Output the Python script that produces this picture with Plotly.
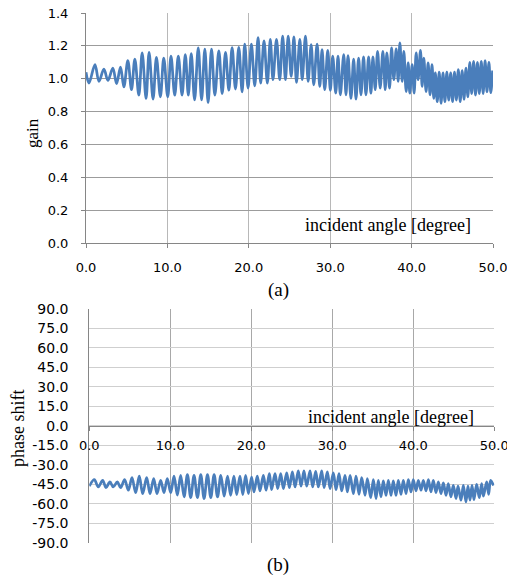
import plotly.graph_objects as go

# ---------------- data (successive extrema) ----------------
gain_angle = [0.0, 0.37, 1.1, 1.59, 2.2, 2.69, 3.3, 3.75, 4.24, 4.65, 5.14, 5.59, 6.0, 6.49,
              6.9, 7.38, 7.75, 8.24, 8.65, 9.14, 9.55, 10.04, 10.44, 10.9, 11.34, 11.8, 12.2,
              12.57, 12.93, 13.34, 13.79, 14.2, 14.6, 15.0, 15.42, 15.83, 16.32, 16.73, 17.14,
              17.55, 17.95, 18.36, 18.77, 19.18, 19.5, 19.91, 20.32, 20.73, 21.14, 21.46, 21.87,
              22.28, 22.64, 22.97, 23.4, 23.8, 24.16, 24.5, 24.84, 25.21, 25.54, 25.86, 26.27,
              26.56, 26.96, 27.29, 27.66, 27.98, 28.39, 28.72, 29.0, 29.33, 29.7, 30.02, 30.31,
              30.68, 30.96, 31.25, 31.66, 31.94, 32.19, 32.55, 32.88, 33.17, 33.49, 33.78, 34.1,
              34.39, 34.72, 35.0, 35.25, 35.53, 35.82, 36.14, 36.47, 36.76, 36.96, 37.29, 37.54,
              37.82, 38.11, 38.35, 38.56, 38.84, 39.05, 39.33, 39.58, 39.78, 40.07, 40.31, 40.56,
              40.8, 41.09, 41.29, 41.5, 41.78, 42.03, 42.27, 42.51, 42.72, 42.92, 43.15, 43.39,
              43.62, 43.86, 44.09, 44.33, 44.56, 44.8, 45.03, 45.27, 45.5, 45.74, 45.97, 46.21,
              46.44, 46.68, 46.91, 47.15, 47.38, 47.62, 47.85, 48.09, 48.32, 48.56, 48.79, 49.03,
              49.26, 49.5, 49.73, 49.95]
gain_value = [1.04, 0.973, 1.086, 0.984, 1.059, 0.99, 1.065, 0.97, 1.07, 0.95, 1.11, 0.933, 1.12, 0.90,
              1.157, 0.88, 1.16, 0.876, 1.13, 0.89, 1.126, 0.89, 1.137, 0.90, 1.137, 0.90, 1.147,
              0.90, 1.153, 0.871, 1.188, 0.871, 1.18, 0.855, 1.18, 0.90, 1.17, 0.91, 1.16,
              0.93, 1.19, 0.937, 1.19, 0.92, 1.21, 0.943, 1.21, 0.957, 1.25, 0.973, 1.23,
              0.973, 1.24, 0.994, 1.24, 0.994, 1.26, 0.994, 1.26, 1.014, 1.255, 0.978, 1.24,
              0.994, 1.26, 0.984, 1.208, 0.963, 1.21, 0.953, 1.177, 0.933, 1.173, 0.929, 1.137,
              0.912, 1.137, 0.902, 1.147, 0.902, 1.14, 0.88, 1.12, 0.876, 1.126, 0.902, 1.133,
              0.902, 1.133, 0.912, 1.133, 0.933, 1.167, 0.943, 1.167, 0.933, 1.157, 0.943, 1.188,
              0.994, 1.182, 0.984, 1.218, 0.984, 1.167, 0.922, 1.096, 0.912, 1.086, 0.912, 1.157,
              0.994, 1.173, 0.953, 1.126, 0.922, 1.096, 0.902, 1.086, 0.88, 1.035, 0.86, 1.04,
              0.85, 1.035, 0.86, 1.04, 0.87, 1.035, 0.86, 1.04, 0.87, 1.055, 0.86, 1.05,
              0.875, 1.065, 0.89, 1.10, 0.91, 1.105, 0.90, 1.10, 0.91, 1.105, 0.91, 1.11,
              0.92, 1.10, 0.915, 1.05]

phase_angle = [0.0, 0.62, 1.11, 1.65, 2.06, 2.55, 2.96, 3.46, 3.87, 4.36, 4.82, 5.27, 5.72, 6.17,
               6.59, 7.08, 7.5, 7.95, 8.36, 8.81, 9.22, 9.63, 10.05, 10.46, 10.87, 11.28, 11.7,
               12.11, 12.52, 12.93, 13.35, 13.76, 14.17, 14.59, 15.0, 15.41, 15.83, 16.24, 16.65,
               17.07, 17.45, 17.85, 18.2, 18.6, 18.95, 19.3, 19.65, 20.04, 20.33, 20.74, 21.07,
               21.49, 21.82, 22.23, 22.51, 22.93, 23.26, 23.63, 23.96, 24.37, 24.7, 25.07, 25.4,
               25.8, 26.14, 26.5, 26.84, 27.25, 27.58, 27.95, 28.28, 28.69, 28.98, 29.39, 29.72,
               30.13, 30.46, 30.83, 31.16, 31.57, 31.86, 32.2, 32.6, 32.93, 33.3, 33.63, 34.04,
               34.33, 34.74, 35.07, 35.4, 35.68, 36.01, 36.3, 36.63, 36.92, 37.25, 37.53, 37.86,
               38.15, 38.48, 38.77, 39.1, 39.39, 39.72, 40.0, 40.33, 40.62, 40.95, 41.24, 41.57,
               41.86, 42.18, 42.47, 42.8, 43.09, 43.42, 43.71, 44.04, 44.32, 44.65, 44.94, 45.27,
               45.52, 45.89, 46.18, 46.5, 46.75, 47.0, 47.25, 47.49, 47.82, 48.15, 48.44, 48.65,
               49.06, 49.3, 49.55, 49.9]
phase_value = [-46.5, -41.4, -47.1, -41.9, -47.6, -43.2, -47.1, -43.2, -47.6, -41.4, -49.6, -39.9, -51.5, -38.8,
               -52.2, -39.9, -52.2, -40.6, -52.2, -41.9, -51.5, -40.6, -51.5, -38.8, -53.3, -38.1, -54.7,
               -37.6, -55.3, -38.1, -55.3, -37.6, -56.0, -37.6, -55.3, -37.6, -54.7, -38.1, -54.2,
               -38.8, -53.5, -38.8, -53.0, -38.8, -53.0, -38.1, -52.2, -39.4, -50.9, -38.8, -50.1,
               -38.1, -49.6, -36.8, -49.1, -36.8, -48.3, -36.8, -48.3, -36.3, -47.6, -35.5, -47.1,
               -34.7, -46.5, -34.7, -46.5, -34.7, -47.1, -35.0, -47.1, -34.7, -47.6, -35.5, -48.3,
               -36.3, -49.1, -36.8, -50.1, -38.1, -50.9, -38.1, -52.2, -38.8, -52.7, -39.9, -53.5,
               -40.6, -55.3, -41.4, -56.0, -41.9, -54.7, -42.4, -53.5, -41.9, -53.5, -42.4, -53.5,
               -41.9, -52.7, -41.9, -52.2, -41.4, -50.9, -41.4, -50.1, -41.9, -49.6, -41.9, -50.1,
               -41.4, -50.9, -41.9, -51.5, -43.2, -52.2, -44.0, -53.5, -44.5, -54.7, -45.8, -56.0,
               -46.5, -57.3, -45.8, -58.6, -46.5, -57.3, -45.8, -56.8, -45.0, -55.3, -44.5, -54.2,
               -43.2, -52.7, -42.0, -46.0]

gain_ticks = [0.0, 0.2, 0.4, 0.6, 0.8, 1.0, 1.2, 1.4]
phase_ticks = [-90, -75, -60, -45, -30, -15, 0, 15, 30, 45, 60, 75, 90]
angle_ticks = [0, 10, 20, 30, 40, 50]

gain_labels = [f"{v:.1f}" for v in gain_ticks]
phase_labels = [f"{v:.1f}" for v in phase_ticks]   # plain hyphen minus, as in the reference
angle_labels = [f"{v:.1f}" for v in angle_ticks]

# ---------------- figure ----------------
# the page body has an 8px margin, so the figure starts at (8, 8) in the window
OX, OY = 8, 8
W, H = 515 - OX, 577 - OY
LINE = "#4A7EBB"
TICKFONT = dict(family="DejaVu Sans", size=13, color="#000000")
SERIF = "Liberation Serif"


def px(x):
    return (x - OX) / W


def py(y):
    return (H - (y - OY)) / H


fig = go.Figure()
fig.add_trace(go.Scatter(x=gain_angle, y=gain_value, mode="lines",
                         line=dict(color=LINE, width=2.75, shape="spline", smoothing=1),
                         xaxis="x", yaxis="y", showlegend=False, hoverinfo="skip"))
fig.add_trace(go.Scatter(x=phase_angle, y=phase_value, mode="lines",
                         line=dict(color=LINE, width=2.75, shape="spline", smoothing=1),
                         xaxis="x2", yaxis="y2", showlegend=False, hoverinfo="skip"))

top_x = [px(86), px(493)]
top_y = [py(243), py(13)]
bot_x = [px(89.3), px(494.3)]
bot_y = [py(542.7), py(309)]
zero_pos = bot_y[0] + (0 - (-90)) / 180 * (bot_y[1] - bot_y[0])

common = dict(automargin=False, ticklabeloverflow="allow", zeroline=False,
              showgrid=True, gridwidth=1, showline=True, linecolor="#868686", linewidth=1,
              tickcolor="#868686")

fig.update_layout(
    width=W, height=H, margin=dict(l=0, r=0, t=0, b=0, autoexpand=False),
    paper_bgcolor="white", plot_bgcolor="white",
    xaxis=dict(domain=top_x, anchor="y", range=[0, 50.0001], tickvals=angle_ticks,
               ticktext=angle_labels, tickfont=TICKFONT, gridcolor="#b8b8b8",
               ticks="outside", ticklen=4, ticklabelstandoff=8, **common),
    yaxis=dict(domain=top_y, anchor="x", range=[0, 1.40001], tickvals=gain_ticks,
               ticktext=gain_labels, tickfont=TICKFONT, gridcolor="#9c9c9c",
               ticks="outside", ticklen=4, ticklabelstandoff=10, **common),
    xaxis2=dict(domain=bot_x, anchor="free", position=zero_pos, range=[0, 50.0001],
                tickvals=angle_ticks, ticktext=angle_labels, tickfont=TICKFONT,
                gridcolor="#a8a8a8", ticks="outside", ticklen=4, ticklabelstandoff=4,
                **common),
    yaxis2=dict(domain=bot_y, anchor="x2", range=[-90.0001, 90.0001], tickvals=phase_ticks,
                ticktext=phase_labels,
                tickfont=dict(family="DejaVu Sans", size=14, color="#000000"),
                gridcolor="#cfcfcf", ticks="", ticklabelstandoff=17, **common),
)

annots = [
    dict(text="gain", x=33, y=133, textangle=-90, font_size=17),
    dict(text="phase shift", x=18, y=429, textangle=-90, font_size=18),
    dict(text="incident angle [degree]", x=388, y=225, font_size=18),
    dict(text="incident angle [degree]", x=391, y=417, font_size=18),
    dict(text="(a)", x=278, y=290, font_size=19),
    dict(text="(b)", x=278, y=565, font_size=19),
]
for a in annots:
    fig.add_annotation(xref="paper", yref="paper", x=px(a["x"]), y=py(a["y"]), text=a["text"],
                       showarrow=False, xanchor="center", yanchor="middle",
                       textangle=a.get("textangle", 0),
                       font=dict(family=SERIF, size=a["font_size"], color="#000000"))

fig.write_html("out.html")
